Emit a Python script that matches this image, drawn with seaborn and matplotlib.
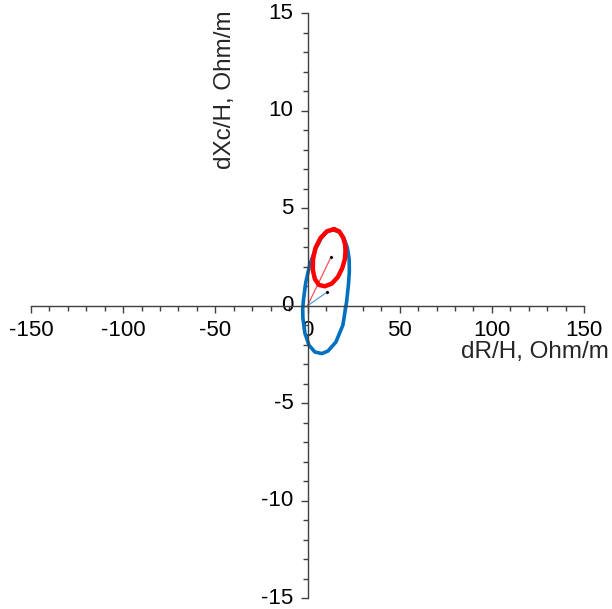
import numpy as np
import pandas as pd
import matplotlib
matplotlib.use("Agg")
import matplotlib.pyplot as plt
import seaborn as sns

# ellipse points (dR/H, dXc/H)
blue_x = [14.3, 17.2, 19.6, 21.6, 22.6, 22.7, 22.2, 21.2, 19.2, 15.4, 11.1, 7.8, 4.0, 0.8,
          -1.4, -2.5, -2.6, -2.2, -0.9, 1.3, 4.6, 7.8, 11.1, 14.3]
blue_y = [3.89, 3.78, 3.50, 2.98, 2.40, 1.75, 1.07, 0.20, -0.99, -1.86, -2.32, -2.45,
          -2.37, -2.02, -1.40, -0.63, -0.15, 0.30, 1.22, 2.14, 2.96, 3.53, 3.84, 3.89]
red_x = [14.3, 17.2, 19.3, 20.4, 20.6, 20.3, 18.9, 16.5, 13.2, 9.4, 6.2, 4.0, 2.9,
         3.0, 4.3, 7.0, 10.5, 14.3]
red_y = [3.93, 3.82, 3.50, 3.15, 2.80, 2.40, 1.94, 1.48, 1.14, 1.00, 1.07, 1.37, 1.84,
         2.40, 2.96, 3.47, 3.82, 3.93]

# centres
center_x = [10.4, 12.7]
center_y = [0.69, 2.49]

sns.set_style("white")
plt.rcParams['font.family'] = ['Liberation Sans', 'DejaVu Sans']
plt.rcParams['axes.unicode_minus'] = False

fig = plt.figure(figsize=(6.12, 6.09), dpi=100)
ax = fig.add_axes([31 / 612, 1 - 598.3 / 609, 553 / 612, 585 / 609])

blue = pd.DataFrame({"x": blue_x, "y": blue_y})
red = pd.DataFrame({"x": red_x, "y": red_y})

# vectors from origin to centres
sns.lineplot(x=[0, center_x[0]], y=[0, center_y[0]], color="#5B9BD5", lw=0.9, ax=ax)
sns.lineplot(x=[0, center_x[1]], y=[0, center_y[1]], color="#FF5050", lw=0.9, ax=ax)

sns.lineplot(data=blue, x="x", y="y", sort=False, estimator=None, color="#0070C0",
             lw=2.6, ax=ax, solid_joinstyle="round")
sns.lineplot(data=red, x="x", y="y", sort=False, estimator=None, color="#FF0000",
             lw=3.2, ax=ax, solid_joinstyle="round")
sns.scatterplot(x=center_x, y=center_y, color="black", s=6, ax=ax, zorder=5)

ax.set_xlim(-150, 150)
ax.set_ylim(-15, 15)

for s in ["top", "right"]:
    ax.spines[s].set_visible(False)
ax.spines["left"].set_position(("data", 0))
ax.spines["bottom"].set_position(("data", 0))
for s in ["left", "bottom"]:
    ax.spines[s].set_color("#404040")
    ax.spines[s].set_linewidth(1.0)

ax.set_xticks(np.arange(-150, 151, 50))
ax.set_xticks(np.arange(-150, 151, 10), minor=True)
ax.set_yticks(np.arange(-15, 16, 5))
ax.set_yticks(np.arange(-15, 16, 1), minor=True)
ax.tick_params(which="major", direction="out", length=5, width=1, color="#404040",
               labelsize=16, labelcolor="black", pad=5)
ax.tick_params(which="minor", direction="out", length=3.5, width=1, color="#404040")
ax.tick_params(axis="x", bottom=True, which="both")
ax.tick_params(axis="y", left=True, which="both")
for lbl in ax.get_yticklabels():
    lbl.set_va("center")

ax.set_xlabel("dR/H, Ohm/m", fontsize=17.5, ha="right", va="center")
ax.xaxis.set_label_coords(1.045, 0.421)
ax.set_ylabel("dXc/H, Ohm/m", fontsize=17.5, ha="center", va="center")
ax.yaxis.set_label_coords(0.351, 0.869)

fig.savefig("out.png", dpi=100)
